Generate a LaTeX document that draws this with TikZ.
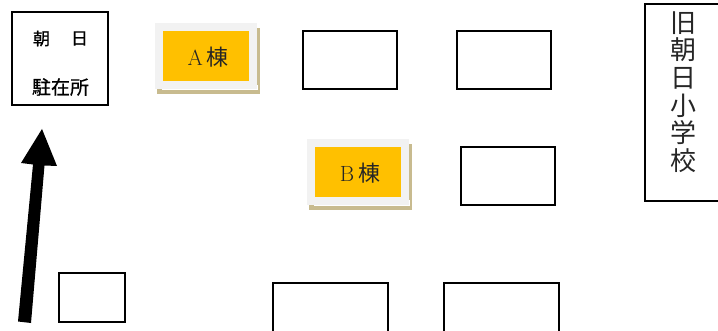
\documentclass[tikz,border=0pt]{standalone}
\usepackage{fontspec}
\newfontfamily\cjk{Noto Sans CJK JP}
\newfontfamily\cjkb[FakeBold=0.7]{Noto Sans CJK JP}
\tikzset{
  plainbox/.style={draw=black,line width=1.9pt,fill=white,inner sep=0pt,outer sep=0pt},
  tan/.style={fill=tanc,draw=none},
  panel/.style={fill=panelc,draw=none},
  gap/.style={fill=white,draw=none},
  orangebox/.style={fill=orangec,draw=none,inner sep=0pt,text=black!85,font=\fontsize{22}{24}\selectfont},
  arrowshape/.style={fill=black,draw=none}
}
\definecolor{tanc}{HTML}{C8BB8F}
\definecolor{panelc}{HTML}{F2F2F2}
\definecolor{orangec}{HTML}{FFC000}
\begin{document}
\begin{tikzpicture}[x=1pt,y=-1pt]
\useasboundingbox (0,0) rectangle (718,331);
% arrow
\fill[arrowshape] (18,321.5) -- (31,323) -- (44.5,165.5) -- (57,166) -- (42,129) -- (21,163) -- (33,164.5) -- cycle;
% plain boxes
\node[plainbox,minimum width=96pt,minimum height=93pt,align=center] (station) at (60,58.5) {};
\node[font=\cjkb\fontsize{17}{20}\selectfont] (stationa) at (41.5,38.5) {朝};
\node[font=\cjkb\fontsize{17}{20}\selectfont] (stationb) at (79.5,38.5) {日};
\node[font=\cjkb\fontsize{19}{20}\selectfont] (stationc) at (60.5,87) {駐在所};
\node[plainbox,minimum width=94pt,minimum height=58pt] (b1) at (350,60) {};
\node[plainbox,minimum width=94pt,minimum height=58pt] (b2) at (504,60) {};
\node[plainbox,minimum width=94pt,minimum height=58pt] (b3) at (508,176) {};
\node[plainbox,minimum width=66pt,minimum height=49pt] (b4) at (92,297.5) {};
\node[plainbox,minimum width=115pt,minimum height=60pt] (b5) at (330.5,313) {};
\node[plainbox,minimum width=115pt,minimum height=60pt] (b6) at (501.5,313) {};
\node[plainbox,minimum width=80pt,minimum height=197pt] (school) at (685,102.5) {};
\node[font=\cjk\fontsize{26}{27.6}\selectfont,align=center,inner sep=0pt,text=black!85] (schooltext) at (683.5,92) {旧\\朝\\日\\小\\学\\校};
% building A
\fill[tan] (157,28) rectangle (260,94);
\fill[gap] (162,85) rectangle (258,90.5);
\fill[panel] (155,23) rectangle (257,89);
\node[orangebox,minimum width=86pt,minimum height=50pt] (a) at (206,56) {};
\node[orangebox,fill=none] (alabel) at (208,57.5) {A\,{\cjk 棟}};
% building B
\fill[tan] (309,144) rectangle (412,210);
\fill[gap] (314,200) rectangle (410,206.5);
\fill[panel] (307,139) rectangle (409,205);
\node[orangebox,minimum width=86pt,minimum height=50pt] (b) at (358,172) {};
\node[orangebox,fill=none] (blabel) at (360,173.5) {B\,{\cjk 棟}};
\end{tikzpicture}
\end{document}
